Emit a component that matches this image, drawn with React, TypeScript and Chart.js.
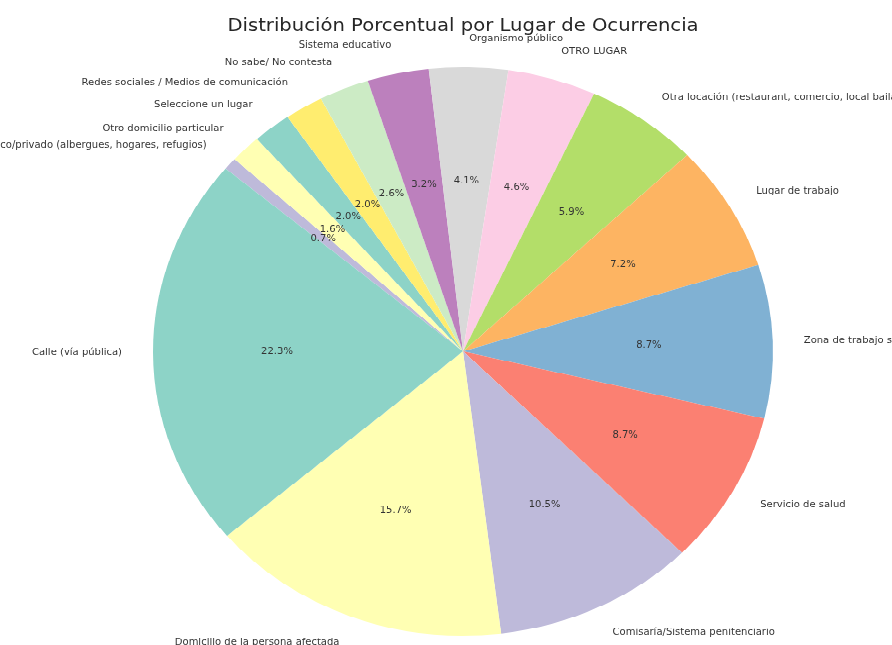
import React, { useEffect, useRef } from "react";
import { Chart, registerables } from "chart.js";

Chart.register(...registerables);

// Slices listed clockwise (Chart.js order), starting just clockwise of the start line.
const categories = [
  "Establecimiento público/privado (albergues, hogares, refugios)",
  "Otro domicilio particular",
  "Seleccione un lugar",
  "Redes sociales / Medios de comunicación",
  "No sabe/ No contesta",
  "Sistema educativo",
  "Organismo público",
  "OTRO LUGAR",
  "Otra locación (restaurant, comercio, local bailable)",
  "Lugar de trabajo",
  "Zona de trabajo sexual",
  "Servicio de salud",
  "Comisaría/Sistema penitenciario",
  "Domicilio de la persona afectada",
  "Calle (vía pública)",
];

const percentages = [0.7, 1.6, 2.0, 2.0, 2.6, 3.2, 4.1, 4.6, 5.9, 7.2, 8.7, 8.7, 10.5, 15.7, 22.3];

const colors = [
  "#bebada", "#ffffb3", "#8dd3c7", "#ffed6f", "#ccebc5", "#bc80bd", "#d9d9d9",
  "#fccde5", "#b3de69", "#fdb462", "#80b1d3", "#fb8072", "#bebada", "#ffffb3", "#8dd3c7",
];

const chartTitle = "Distribución Porcentual por Lugar de Ocurrencia";

const W = 892;
const H = 703;
const SCALE_Y = 645 / H;

export default function App() {
  const ref = useRef<HTMLCanvasElement>(null);

  useEffect(() => {
    if (!ref.current) return;
    const labelPlugin = {
      id: "pieLabels",
      afterDatasetsDraw(chart: any) {
        const ctx = chart.ctx as CanvasRenderingContext2D;
        const meta = chart.getDatasetMeta(0);
        ctx.save();
        ctx.fillStyle = "#333333";
        ctx.textBaseline = "middle";
        meta.data.forEach((arc: any, i: number) => {
          const { x, y, startAngle, endAngle, outerRadius } = arc.getProps(
            ["x", "y", "startAngle", "endAngle", "outerRadius"],
            true
          );
          const mid = (startAngle + endAngle) / 2;
          const c = Math.cos(mid);
          const s = Math.sin(mid);
          ctx.font = '10px "DejaVu Sans"';
          ctx.textAlign = "center";
          ctx.fillText(
            percentages[i].toFixed(1) + "%",
            x + c * outerRadius * 0.6,
            y + s * outerRadius * 0.6
          );
          ctx.textAlign = c > 0 ? "left" : "right";
          ctx.fillText(categories[i], x + c * outerRadius * 1.1, y + s * outerRadius * 1.1);
        });
        const area = chart.chartArea;
        ctx.font = '19.6px "DejaVu Sans"';
        ctx.textAlign = "center";
        ctx.fillStyle = "#262626";
        ctx.fillText(chartTitle, (area.left + area.right) / 2, 28.5);
        ctx.restore();
      },
    };

    const chart = new Chart(ref.current, {
      type: "pie",
      data: {
        labels: categories,
        datasets: [
          {
            data: percentages,
            backgroundColor: colors,
            borderWidth: 0,
            hoverOffset: 0,
            offset: 0,
          },
        ],
      },
      options: {
        responsive: false,
        animation: false,
        devicePixelRatio: 1,
        rotation: -50,
        radius: 310,
        layout: { padding: { left: 153, right: 119, top: 73, bottom: 10 } },
        plugins: {
          legend: { display: false },
          tooltip: { enabled: false },
          title: { display: false },
        },
        events: [],
      },
      plugins: [labelPlugin],
    } as any);

    return () => chart.destroy();
  }, []);

  return (
    <div
      style={{
        position: "fixed",
        left: 0,
        top: 0,
        width: W,
        height: H,
        background: "#ffffff",
        transform: `scaleY(${SCALE_Y})`,
        transformOrigin: "0 0",
      }}
    >
      <canvas ref={ref} width={W} height={H} />
    </div>
  );
}
